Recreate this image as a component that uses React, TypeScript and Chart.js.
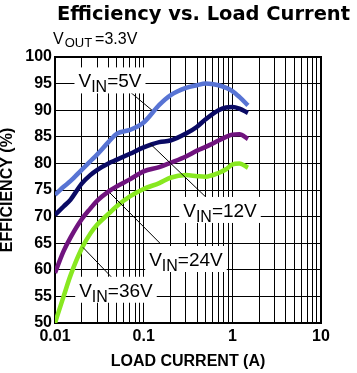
import { useEffect, useRef } from 'react';
import { Chart, registerables } from 'chart.js';

Chart.register(...registerables);

// ---- data ----
const LOAD_CURRENT_A = [0.01, 0.0125, 0.015, 0.02, 0.025, 0.03, 0.04, 0.05, 0.07, 0.1, 0.15, 0.2, 0.3, 0.4, 0.5, 0.7, 0.85, 1.0, 1.2, 1.5];
const EFF_VIN_5V = [74.1, 75.6, 76.7, 78.8, 80.4, 81.7, 84.0, 85.6, 86.3, 87.7, 91.0, 92.8, 94.2, 94.7, 95.0, 94.7, 94.2, 93.6, 92.5, 90.9];
const EFF_VIN_12V = [70.3, 71.9, 73.2, 76.2, 77.8, 78.8, 80.0, 80.7, 81.8, 83.0, 84.0, 84.3, 85.6, 86.9, 88.3, 90.0, 90.5, 90.6, 90.3, 89.5];
const EFF_VIN_24V = [59.4, 63.5, 66.1, 69.5, 71.5, 73.0, 74.7, 75.7, 77.0, 78.5, 79.3, 80.1, 81.3, 82.4, 83.1, 84.3, 85.0, 85.4, 85.5, 84.6];
const EFF_VIN_36V = [50.0, 55.0, 59.0, 64.0, 66.8, 68.5, 70.5, 72.0, 73.8, 75.2, 76.3, 77.3, 77.8, 77.6, 77.5, 78.2, 78.9, 79.8, 80.0, 79.2];

const SERIES_VALUES = ['5V', '12V', '24V', '36V'];
const SERIES_COLORS = ['#5874d4', '#0a0a64', '#70147e', '#88e820'];

const X_TICK_VALUES = [0.01, 0.1, 1, 10];
const X_TICK_LABELS = ['0.01', '0.1', '1', '10'];
const X_DECADES = [0.01, 0.1, 1];
const Y_MIN = 50;
const Y_MAX = 100;
const Y_STEP = 5;

const TITLE = 'Efficiency vs. Load Current';
const VOUT_MAIN = 'V';
const VOUT_SUB = 'OUT';
const VOUT_REST = '=3.3V';
const X_TITLE = 'LOAD CURRENT (A)';
const Y_TITLE = 'EFFICIENCY (%)';

// label anchors (data coordinates): text centre and leader line
const LABEL_AT = [
  [0.0417, 95.6],
  [0.726, 71.25],
  [0.30, 62.03],
  [0.0487, 56.25],
];
const LABEL_LEADERS = [
  [[0.0666, 93.76], [0.124, 90.0]],
  [[0.118, 83.72], [0.574, 72.75]],
  [[0.0417, 74.44], [0.1527, 65.0]],
  [[0.0207, 64.2], [0.0487, 57.75]],
];

const FONT = '"Liberation Sans", Arial, sans-serif';

const overlayPlugin = {
  id: 'overlay',
  afterDatasetsDraw(chart: any) {
    const { ctx, chartArea, scales } = chart;
    const xs = scales.x;
    const ys = scales.y;
    ctx.save();
    // leader lines
    ctx.strokeStyle = '#000';
    ctx.lineWidth = 1;
    LABEL_LEADERS.forEach((ld) => {
      ctx.beginPath();
      ctx.moveTo(xs.getPixelForValue(ld[0][0]), ys.getPixelForValue(ld[0][1]));
      ctx.lineTo(xs.getPixelForValue(ld[1][0]), ys.getPixelForValue(ld[1][1]));
      ctx.stroke();
    });
    // labels
    const mainFont = `19px ${FONT}`;
    const subFont = `16px ${FONT}`;
    SERIES_VALUES.forEach((v, i) => {
      const cx = xs.getPixelForValue(LABEL_AT[i][0]);
      const cy = ys.getPixelForValue(LABEL_AT[i][1]);
      const rest = '=' + v;
      ctx.font = mainFont;
      const w1 = ctx.measureText('V').width;
      const w3 = ctx.measureText(rest).width;
      ctx.font = subFont;
      const w2 = ctx.measureText('IN').width;
      const total = w1 + w2 + w3;
      const left = cx - total / 2;
      ctx.fillStyle = '#fff';
      ctx.fillRect(left - 4, cy - 13, total + 8, 26);
      ctx.fillStyle = '#000';
      ctx.textAlign = 'left';
      ctx.textBaseline = 'alphabetic';
      const base = cy + 7;
      ctx.font = mainFont;
      ctx.fillText('V', left, base);
      ctx.font = subFont;
      ctx.fillText('IN', left + w1, base + 5);
      ctx.font = mainFont;
      ctx.fillText(rest, left + w1 + w2, base);
    });
    // plot frame (top and right)
    ctx.strokeStyle = '#000';
    ctx.lineWidth = 2;
    ctx.beginPath();
    ctx.moveTo(chartArea.left, chartArea.top);
    ctx.lineTo(chartArea.right, chartArea.top);
    ctx.lineTo(chartArea.right, chartArea.bottom);
    ctx.stroke();
    ctx.restore();
  },
  afterDraw(chart: any) {
    const { ctx } = chart;
    ctx.save();
    ctx.fillStyle = '#000';
    ctx.textBaseline = 'alphabetic';
    ctx.textAlign = 'left';
    // title
    ctx.font = `bold 19.5px "DejaVu Sans", ${FONT}`;
    const tw = ctx.measureText(TITLE).width;
    const target = 293;
    ctx.translate(57, 19.5);
    ctx.scale(target / tw, 1);
    ctx.fillText(TITLE, 0, 0);
    ctx.setTransform(1, 0, 0, 1, 0, 0);
    // Vout
    ctx.font = `16px ${FONT}`;
    ctx.fillText(VOUT_MAIN, 53, 43.5);
    const vw = ctx.measureText(VOUT_MAIN).width;
    ctx.font = `13px ${FONT}`;
    ctx.fillText(VOUT_SUB, 53 + vw + 1, 47);
    const sw = ctx.measureText(VOUT_SUB).width;
    ctx.font = `16px ${FONT}`;
    ctx.fillText(VOUT_REST, 53 + vw + 1 + sw + 3, 43.5);
    ctx.restore();
  },
};

function buildGridValues() {
  const vals: number[] = [];
  X_DECADES.forEach((d) => {
    for (let k = 1; k <= 9; k++) vals.push(+(d * k).toPrecision(6));
  });
  vals.push(X_TICK_VALUES[X_TICK_VALUES.length - 1]);
  return vals;
}

export default function App() {
  const ref = useRef<HTMLCanvasElement | null>(null);
  useEffect(() => {
    if (!ref.current) return;
    const seriesY = [EFF_VIN_5V, EFF_VIN_12V, EFF_VIN_24V, EFF_VIN_36V];
    const gridVals = buildGridValues();
    const chart = new Chart(ref.current, {
      type: 'line',
      data: {
        datasets: seriesY.map((ys, i) => ({
          label: 'VIN=' + SERIES_VALUES[i],
          data: LOAD_CURRENT_A.map((x, j) => ({ x, y: ys[j] })),
          borderColor: SERIES_COLORS[i],
          backgroundColor: SERIES_COLORS[i],
          borderWidth: 4.5,
          pointRadius: 0,
          cubicInterpolationMode: 'monotone',
          fill: false,
        })),
      },
      options: {
        animation: false,
        responsive: false,
        devicePixelRatio: 1,
        layout: { padding: { left: 0, top: 57, right: 36, bottom: 0 } },
        plugins: {
          legend: { display: false },
          tooltip: { enabled: false },
          title: { display: false },
        },
        scales: {
          x: {
            type: 'logarithmic',
            min: 0.01,
            max: 10,
            afterBuildTicks: (scale: any) => {
              scale.ticks = gridVals.map((v) => ({ value: v }));
            },
            afterFit: (scale: any) => {
              scale.height = 50;
            },
            grid: { color: '#000', lineWidth: 1, drawTicks: false },
            border: { display: true, color: '#000', width: 2 },
            ticks: {
              autoSkip: false,
              maxRotation: 0,
              minRotation: 0,
              padding: 4,
              color: '#000',
              font: { family: FONT, size: 16, weight: 'bold' },
              callback: (value: any) => {
                const i = X_TICK_VALUES.findIndex((t) => Math.abs(t - value) / t < 1e-6);
                return i >= 0 ? X_TICK_LABELS[i] : '';
              },
            },
            title: {
              display: true,
              text: X_TITLE,
              color: '#000',
              font: { family: FONT, size: 16, weight: 'bold', lineHeight: 1 },
              padding: { top: 0, bottom: 3 },
            },
          },
          y: {
            type: 'linear',
            min: Y_MIN,
            max: Y_MAX,
            afterFit: (scale: any) => {
              scale.width = 55;
            },
            grid: { color: '#000', lineWidth: 1, drawTicks: false },
            border: { display: true, color: '#000', width: 2 },
            ticks: {
              stepSize: Y_STEP,
              padding: 3,
              color: '#000',
              font: { family: FONT, size: 16, weight: 'bold' },
            },
            title: {
              display: true,
              text: Y_TITLE,
              color: '#000',
              font: { family: FONT, size: 16, weight: 'bold', lineHeight: 1 },
              padding: { top: 0, bottom: 0 },
            },
          },
        },
      } as any,
      plugins: [overlayPlugin],
    });
    return () => chart.destroy();
  }, []);
  return (
    <div style={{ position: 'fixed', left: 0, top: 0, width: 357, height: 373, background: '#fff' }}>
      <canvas ref={ref} width={357} height={373} style={{ display: 'block', width: 357, height: 373 }} />
    </div>
  );
}
